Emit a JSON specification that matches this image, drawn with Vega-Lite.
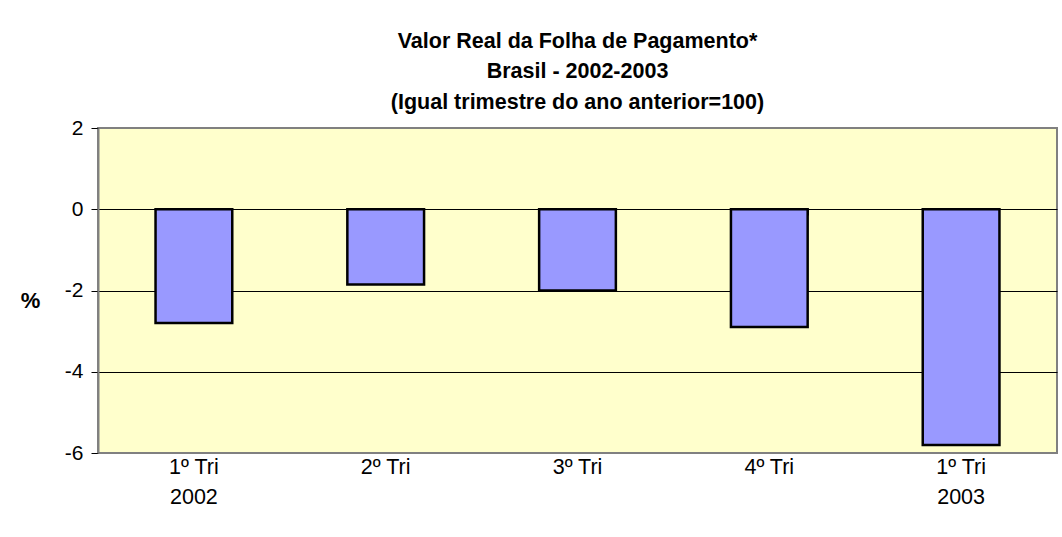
{
  "$schema": "https://vega.github.io/schema/vega-lite/v6.json",
  "autosize": "none",
  "width": 959,
  "height": 325,
  "padding": {"left": 98, "top": 128, "right": 5, "bottom": 84},
  "background": "white",
  "title": {
    "text": ["Valor Real da Folha de Pagamento*", "Brasil - 2002-2003", "(Igual trimestre do ano anterior=100)"],
    "font": "Liberation Sans",
    "fontSize": 21.5,
    "fontWeight": "bold",
    "color": "black",
    "lineHeight": 30.5,
    "frame": "group",
    "anchor": "middle",
    "offset": 4
  },
  "data": {
    "values": [
      {"periodo": "1º Tri\n2002", "valor": -2.8},
      {"periodo": "2º Tri", "valor": -1.85},
      {"periodo": "3º Tri", "valor": -2.0},
      {"periodo": "4º Tri", "valor": -2.9},
      {"periodo": "1º Tri\n2003", "valor": -5.8}
    ]
  },
  "config": {
    "view": {"fill": "#FFFFCC", "stroke": "#808080", "strokeWidth": 2},
    "axis": {"labelFont": "Liberation Sans", "titleFont": "Liberation Sans", "labelColor": "black", "titleColor": "black"}
  },
  "layer": [
    {
      "mark": {"type": "bar", "fill": "#9999FF", "stroke": "black", "strokeWidth": 2.5},
      "encoding": {
        "x": {
          "field": "periodo", "type": "nominal", "sort": null,
          "scale": {"paddingInner": 0.6, "paddingOuter": 0.3},
          "axis": {
            "title": null, "labelAngle": 0, "labelFontSize": 21.5, "labelLineHeight": 30,
            "labelExpr": "split(datum.label, '\\n')", "labelPadding": 3, "labelBaseline": "top",
            "ticks": false, "domain": false
          }
        },
        "y": {
          "field": "valor", "type": "quantitative",
          "scale": {"domain": [-6, 2], "nice": false, "zero": false},
          "axis": {
            "values": [2, 0, -2, -4, -6],
            "labelExpr": "toString(datum.value)",
            "title": "%", "titleAngle": 0, "titleFontSize": 22, "titleFontWeight": "bold",
            "titleX": -68, "titleY": 172, "titleAlign": "center", "titleBaseline": "middle",
            "labelFontSize": 21, "labelPadding": 8,
            "tickColor": "black", "tickSize": 7,
            "domainColor": "#808080", "domainWidth": 2,
            "grid": true,
            "gridColor": {"condition": {"test": "datum.value == 2 || datum.value == -6", "value": "#808080"}, "value": "black"},
            "gridWidth": 1
          }
        },
        "y2": {"datum": 0}
      }
    },
    {
      "mark": {"type": "bar", "opacity": 0},
      "encoding": {
        "x": {
          "field": "periodo", "type": "nominal", "sort": null,
          "axis": {
            "title": null, "labels": false, "domain": false, "grid": false,
            "ticks": true, "tickBand": "extent", "tickColor": "black", "tickSize": 6,
            "offset": -244, "orient": "bottom"
          }
        },
        "y": {"field": "valor", "type": "quantitative"}
      }
    }
  ],
  "resolve": {"axis": {"x": "independent"}}
}
